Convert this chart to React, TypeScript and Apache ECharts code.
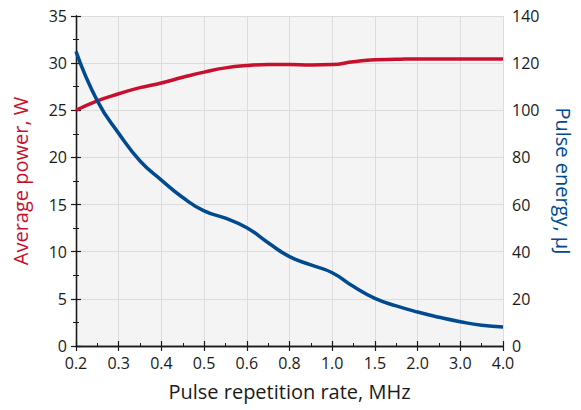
import React, { useEffect, useRef } from "react";
import * as echarts from "echarts";

// Pulse repetition rate (MHz) positions along the (non-linear) x axis, half-step resolution
const freqCategories = [
  "0.2", "0.25", "0.3", "0.35", "0.4", "0.45", "0.5", "0.55", "0.6", "0.7", "0.8",
  "0.9", "1.0", "1.25", "1.5", "1.75", "2.0", "2.5", "3.0", "3.5", "4.0",
];
// Average power, W
const averagePower = [
  25.0, 26.0, 26.75, 27.4, 27.9, 28.5, 29.05, 29.5, 29.75, 29.85, 29.85,
  29.8, 29.85, 30.15, 30.35, 30.4, 30.45, 30.45, 30.45, 30.45, 30.45,
];
// Pulse energy, µJ
const pulseEnergy = [
  125, 104, 90.2, 78.5, 70.4, 63, 57.3, 54.2, 50.2, 43.8, 37.9,
  34.4, 31.1, 25.2, 20.2, 17.0, 14.4, 12.2, 10.3, 8.8, 8.1,
];
const leftTicks = { min: 0, max: 35, interval: 5 };
const rightTicks = { min: 0, max: 140, interval: 20 };

const RED = "#c8102e";
const BLUE = "#004b8d";
const FONT = "Open Sans";

export default function App() {
  const ref = useRef<HTMLDivElement>(null);
  useEffect(() => {
    if (!ref.current) return;
    const chart = echarts.init(ref.current, undefined, { renderer: "svg" });
    const axisLine = { show: true, lineStyle: { color: "#1a1a1a", width: 1.3 } };
    const tick = { show: true, inside: true, length: 5, lineStyle: { color: "#1a1a1a", width: 1.2 } };
    const minor = { show: true, splitNumber: 2, length: 3, lineStyle: { color: "#1a1a1a", width: 1 } };
    const label = { color: "#1a1a1a", fontSize: 16, fontFamily: FONT };
    const title = { fontSize: 20, fontFamily: FONT };
    chart.setOption({
      animation: false,
      textStyle: { fontFamily: FONT },
      grid: {
        left: 76, right: 73, top: 16, bottom: 64,
        show: true, backgroundColor: "#f4f4f4", borderWidth: 0,
      },
      xAxis: [
        {
          type: "value", min: 0, max: freqCategories.length - 1, interval: 2,
          axisLine, axisTick: tick, minorTick: minor,
          axisLabel: { ...label, margin: 9, formatter: (v: number) => freqCategories[v] ?? "" },
          splitLine: { show: true, lineStyle: { color: "#dcdcdc", width: 1 } },
          name: "Pulse repetition rate, MHz", nameLocation: "middle", nameGap: 35,
          nameTextStyle: { color: "#1a1a1a", ...title },
        },
        {
          type: "value", position: "top", min: 0, max: freqCategories.length - 1, interval: 2,
          axisLine, axisTick: tick, minorTick: { ...minor, show: false },
          axisLabel: { show: false }, splitLine: { show: false },
        },
      ],
      yAxis: [
        {
          type: "value", ...leftTicks, position: "left",
          axisLine, axisTick: tick, minorTick: minor,
          axisLabel: { ...label, margin: 9 },
          splitLine: { show: true, lineStyle: { color: "#dcdcdc", width: 1 } },
          name: "Average power, W", nameLocation: "middle", nameGap: 46, nameRotate: 90,
          nameTextStyle: { color: RED, ...title },
        },
        {
          type: "value", ...rightTicks, position: "right",
          axisLine, axisTick: tick, minorTick: minor,
          axisLabel: { ...label, margin: 9 },
          splitLine: { show: false },
          name: "Pulse energy, µJ", nameLocation: "middle", nameGap: 50, nameRotate: -90,
          nameTextStyle: { color: BLUE, ...title },
        },
      ],
      series: [
        {
          type: "line", xAxisIndex: 0, yAxisIndex: 0, smooth: 0.5, symbol: "none",
          lineStyle: { color: RED, width: 3.5 },
          data: averagePower.map((v, i) => [i, v]),
          z: 3,
        },
        {
          type: "line", xAxisIndex: 0, yAxisIndex: 1, smooth: 0.5, symbol: "none",
          lineStyle: { color: BLUE, width: 3.5 },
          data: pulseEnergy.map((v, i) => [i, v]),
          z: 4,
        },
      ],
    });
    return () => chart.dispose();
  }, []);
  return <div ref={ref} style={{ width: 581, height: 410, position: "absolute", left: 0, top: 0 }} />;
}
